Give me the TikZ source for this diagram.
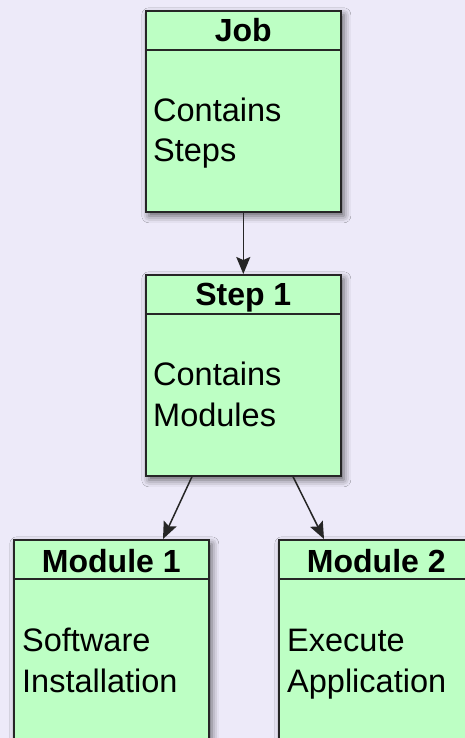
\documentclass[tikz,border=0pt]{standalone}
\usepackage{fontspec}
\setmainfont{Liberation Sans}
\usetikzlibrary{arrows.meta,shadows.blur}
\definecolor{bg}{RGB}{237,234,249}
\definecolor{boxgreen}{RGB}{189,255,196}
\tikzset{
  box/.style={draw=black!85, line width=1.6pt, fill=boxgreen, minimum width=195pt,
    minimum height=201pt, anchor=north west, inner sep=0pt,
    blur shadow={shadow xshift=3pt, shadow yshift=-4pt, shadow blur radius=7pt, shadow opacity=60}},
  divider/.style={draw=black!85, line width=1.6pt},
  titletext/.style={font=\bfseries\fontsize{32}{37}\selectfont, anchor=base, inner sep=0pt},
  bodytext/.style={font=\fontsize{32.5}{40}\selectfont, anchor=base west, inner sep=0pt},
  arr/.style={draw=black!85, line width=1.5pt, -{Stealth[length=17pt,width=14pt,inset=3pt]}}
}
\begin{document}
\begin{tikzpicture}[x=1pt,y=-1pt]
\useasboundingbox (0,0) rectangle (465,738);
\fill[bg] (0,0) rectangle (465,738);

% Job
\node[box] (job) at (145,10) {};
\draw[divider] ([yshift=-40pt]job.north west) -- ([yshift=-40pt]job.north east);
\node[titletext] (jobt) at ([yshift=-32pt]job.north) {Job};
\node[bodytext] (jobb1) at ([xshift=8pt,yshift=-112pt]job.north west) {Contains};
\node[bodytext] (jobb2) at ([xshift=8pt,yshift=-151pt]job.north west) {Steps};

% Step 1
\node[box] (step) at (145,274) {};
\draw[divider] ([yshift=-40pt]step.north west) -- ([yshift=-40pt]step.north east);
\node[titletext] (stept) at ([yshift=-31pt]step.north) {Step 1};
\node[bodytext] (stepb1) at ([xshift=8pt,yshift=-111pt]step.north west) {Contains};
\node[bodytext] (stepb2) at ([xshift=8pt,yshift=-152pt]step.north west) {Modules};

% Module 1
\node[box, minimum height=260pt] (m1) at (13,539) {};
\draw[divider] ([yshift=-40pt]m1.north west) -- ([yshift=-40pt]m1.north east);
\node[titletext] (m1t) at ([yshift=-33pt]m1.north) {Module 1};
\node[bodytext] (m1b1) at ([xshift=9pt,yshift=-112pt]m1.north west) {Software};
\node[bodytext] (m1b2) at ([xshift=9pt,yshift=-153pt]m1.north west) {Installation};

% Module 2
\node[box, minimum height=260pt] (m2) at (278,539) {};
\draw[divider] ([yshift=-40pt]m2.north west) -- ([yshift=-40pt]m2.north east);
\node[titletext] (m2t) at ([yshift=-33pt]m2.north) {Module 2};
\node[bodytext] (m2b1) at ([xshift=9pt,yshift=-112pt]m2.north west) {Execute};
\node[bodytext] (m2b2) at ([xshift=9pt,yshift=-153pt]m2.north west) {Application};

% Connectors
\draw[arr] (job.south) -- (step.north);
\draw[arr] ([xshift=47pt]step.south west) -- ([xshift=150pt]m1.north west);
\draw[arr] ([xshift=148pt]step.south west) -- ([xshift=46pt]m2.north west);
\end{tikzpicture}
\end{document}
